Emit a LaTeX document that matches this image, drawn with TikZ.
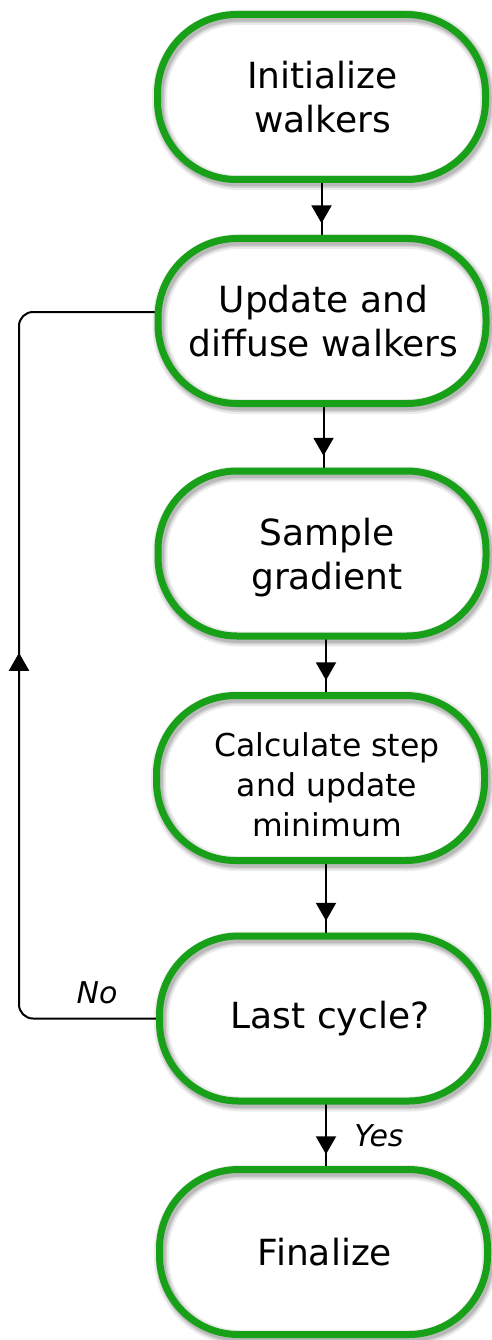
\documentclass[tikz,border=0pt]{standalone}
\usepackage{fontspec}
\setmainfont{DejaVu Sans}[ItalicFont={DejaVu Sans Oblique}]
\usetikzlibrary{arrows.meta,decorations.markings,backgrounds}
\definecolor{flowgreen}{RGB}{24,160,24}
% push a centred line to the right by half the given amount
\newcommand{\nudge}[1]{\hspace*{#1}}
\tikzset{
  stage/.style={rectangle, rounded corners=79pt, minimum width=328pt,
    minimum height=165pt, inner sep=0pt, align=center, fill=white,
    font=\fontsize{36}{44}\selectfont,
    postaction={draw=black, opacity=0.08, line width=15pt, transform canvas={shift={(2pt,-3pt)}}},
    postaction={draw=black, opacity=0.10, line width=11pt, transform canvas={shift={(2pt,-3pt)}}},
    postaction={draw=black, opacity=0.12, line width=8pt, transform canvas={shift={(2pt,-3pt)}}},
    postaction={draw=flowgreen, line width=7pt}},
  smalltext/.style={font=\fontsize{31.5}{40}\selectfont},
  flow/.style={line width=2pt, postaction={decorate},
    decoration={markings, mark=at position -15pt with {\arrow{Triangle[width=20pt,length=18pt]}}}},
  backflow/.style={line width=2pt, rounded corners=14pt, postaction={decorate},
    decoration={markings, mark=at position 500pt with {\arrow{Triangle[width=20pt,length=18pt]}}}},
  lbl/.style={inner sep=0pt, font=\itshape\fontsize{30}{36}\selectfont},
}
\begin{document}
\begin{tikzpicture}[x=1pt, y=-1pt]
  \useasboundingbox (0,0) rectangle (491,1340);

  % process stages
  \node[stage] (n1) at (321.5,97)   {\nudge{2pt}Initialize\\\nudge{2pt}walkers};
  \node[stage] (n2) at (322,321)    {\nudge{3pt}Update and\\\nudge{3pt}diffuse walkers};
  \node[stage] (n3) at (322,553.5)  {\mbox{}\\[-8pt]\nudge{10pt}Sample\\\nudge{10pt}gradient};
  \node[stage, smalltext] (n4) at (320.5,778)
    {\mbox{}\\[-2pt]\nudge{13pt}Calculate step\\\nudge{13pt}and update\\\nudge{13pt}minimum};
  \node[stage] (n5) at (323.5,1018.5) {\nudge{13pt}Last cycle?};
  \node[stage] (n6) at (323.5,1252) {\nudge{3pt}Finalize};

  % branch labels
  \node[lbl] (no)  at (97,993)   {No};
  \node[lbl] (yes) at (379,1136) {Yes};

  % loop corners
  \coordinate (cb) at (19,1018.5);
  \coordinate (ct) at (19,312);

  \begin{pgfonlayer}{background}
    \draw[flow] (n1.south) -- (n1.south |- n2.north);
    \draw[flow] ([xshift=1.5pt]n2.south) -- ([xshift=1.5pt]n2.south |- n3.north);
    \draw[flow] ([xshift=4pt]n3.south) -- ([xshift=4pt]n3.south |- n4.north);
    \draw[flow] ([xshift=5.5pt]n4.south) -- ([xshift=5.5pt]n4.south |- n5.north);
    \draw[flow] ([xshift=2.5pt]n5.south) -- ([xshift=2.5pt]n5.south |- n6.north);
    \draw[backflow] (n5.west) -- (cb) -- (ct) -- (ct -| n2.west);
  \end{pgfonlayer}
\end{tikzpicture}
\end{document}
